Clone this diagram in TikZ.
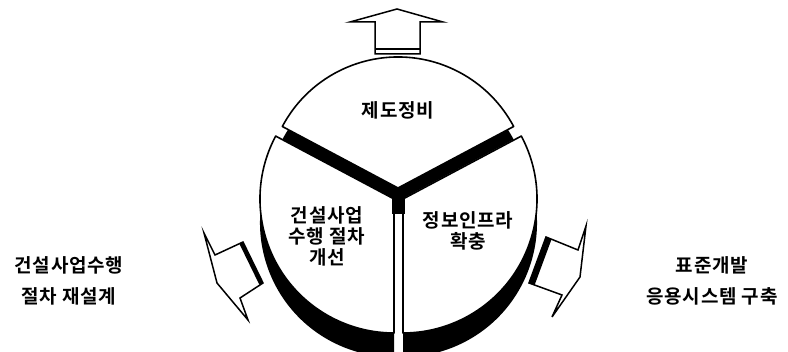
\documentclass[tikz,border=0pt]{standalone}
\usepackage{fontspec}
\setmainfont{Noto Sans CJK KR}[BoldFont={Noto Sans CJK KR Bold}, LetterSpace=4]
\usetikzlibrary{calc}

\begin{document}
\begin{tikzpicture}[x=1pt, y=-1pt,
    sector/.style={fill=white, draw=black, line width=1.6pt, line join=round},
    shade/.style={fill=black},
    blockarr/.style={fill=white, draw=black, line width=1.5pt, line join=miter},
    lbl/.style={align=center, font=\fontsize{19}{21}\selectfont\bfseries}
  ]
  \useasboundingbox (0,0) rectangle (788,352);
  \clip (0,0) rectangle (788,352);

  % bottom face of the two lower sectors
  \fill[shade] (394,223) -- ++(-152:134) arc[start angle=-152, end angle=-270, radius=134] -- cycle;
  \fill[shade] (403,223) -- ++(-28:134) arc[start angle=-28, end angle=90, radius=134] -- cycle;

  % lower sectors
  \draw[sector] (394,199) -- ++(-152:134) arc[start angle=-152, end angle=-270, radius=134] -- cycle;
  \draw[sector] (403,199) -- ++(-28:134) arc[start angle=-28, end angle=90, radius=134] -- cycle;

  % side band under the top sector
  \fill[shade] (398,201) -- ++(-152:131) arc[start angle=-152, end angle=-28, radius=131] -- cycle;
  \fill[shade] (392,196) rectangle (405,214);

  % top sector
  \draw[sector] (398,188) -- ++(-152:131) arc[start angle=-152, end angle=-28, radius=131] -- cycle;

  \node[lbl] (law)   at (398,110) {제도정비};
  \node[lbl] (proc)  at (327,236) {건설사업\\수행 절차\\개선};
  \node[lbl] (infra) at (468,231) {정보인프라\\확충};

  % block arrows
  \draw[blockarr] (397,9) -- (443,22) -- (420,22) -- (420,54) -- (375,54) -- (375,22) -- (350,22) -- cycle;
  \draw[line width=1.4pt] (375,49) -- (420,49);

  \draw[blockarr] (217,283) -- (204,233) -- (215,255) -- (243,242) -- (263,283) -- (240,298) -- (248,320) -- cycle;
  \fill[shade] (243,242) -- (263,283) -- (259.4,284.8) -- (239.4,243.8) -- cycle;

  \draw[blockarr] (580,277) -- (586,226) -- (578,250) -- (546,237) -- (529,283) -- (562,295) -- (552,317) -- cycle;
  \fill[shade] (546,237) -- (529,283) -- (534.6,285.1) -- (551.6,239.1) -- cycle;

  \node[lbl, font=\fontsize{19}{31}\selectfont\bfseries] (redes)  at (69,281)  {건설사업수행\\절차 재설계};
  \node[lbl, font=\fontsize{19}{31}\selectfont\bfseries] (stdsys) at (712,281) {표준개발\\응용시스템 구축};
\end{tikzpicture}
\end{document}
